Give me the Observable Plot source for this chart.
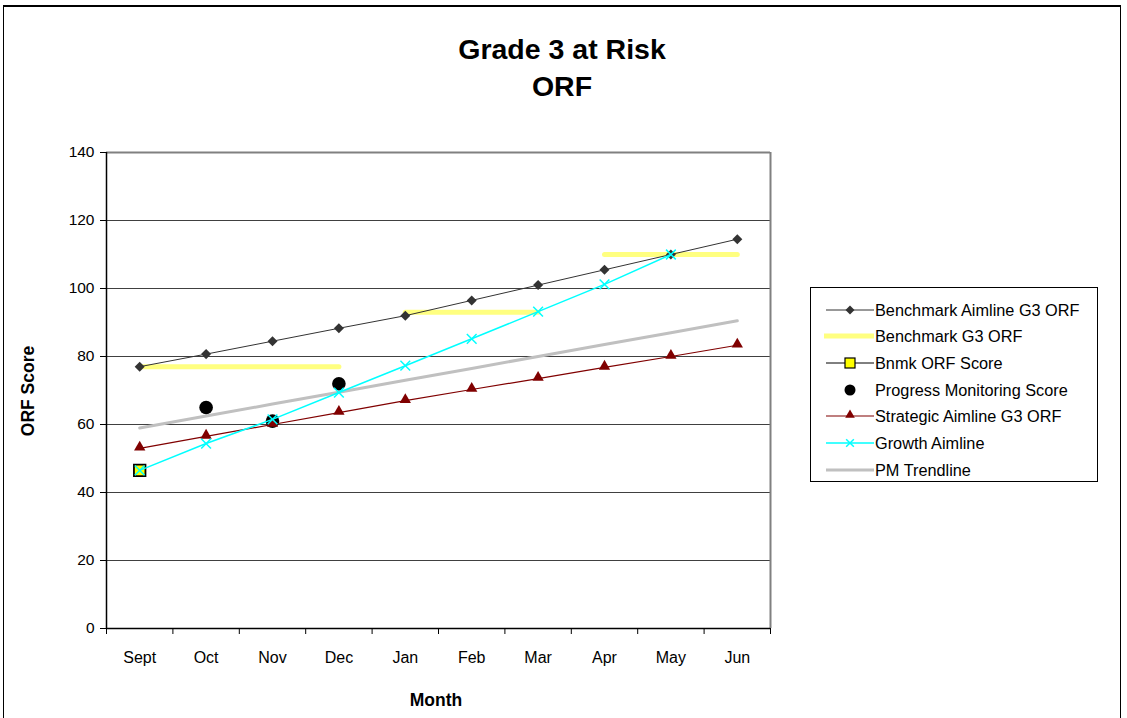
<!DOCTYPE html>
<html>
<head>
<meta charset="utf-8">
<script src="https://cdn.jsdelivr.net/npm/d3@7"></script>
<script src="https://cdn.jsdelivr.net/npm/@observablehq/plot@0.6"></script>
<style>
  html, body { margin: 0; padding: 0; background: #fff; }
  body { width: 1127px; height: 718px; overflow: hidden; position: relative; font-family: "Liberation Sans", Arial, sans-serif; }
  #frame { position: absolute; left: 3px; top: 5px; width: 1118px; height: 800px; border: 1px solid #000; border-top: 2px solid #000; box-sizing: border-box; }
  #title { position: absolute; left: 0; width: 1124px; top: 31px; text-align: center; font-weight: bold; font-size: 28.5px; line-height: 37px; color: #000; }
  #chart { position: absolute; left: 0; top: 0; }
  #legend { position: absolute; left: 810px; top: 287px; width: 288px; height: 195px; border: 1px solid #000; box-sizing: border-box; background: #fff; }
  #ylabel { position: absolute; left: 28px; top: 391px; transform: translate(-50%, -50%) rotate(-90deg); font-weight: bold; font-size: 17.5px; white-space: nowrap; }
  #xlabel { position: absolute; left: 436px; top: 700px; transform: translate(-50%, -50%); font-weight: bold; font-size: 17.5px; }
</style>
</head>
<body>
<div id="frame"></div>
<div id="title">Grade 3 at Risk<br>ORF</div>
<div id="chart"></div>
<div id="ylabel">ORF Score</div>
<div id="xlabel">Month</div>
<div id="legend"></div>
<script>
const months = ["Sept", "Oct", "Nov", "Dec", "Jan", "Feb", "Mar", "Apr", "May", "Jun"];
const yTicks = [0, 20, 40, 60, 80, 100, 120, 140];
const benchmarkAimline = [77, 80.7, 84.5, 88.3, 92, 96.5, 101, 105.5, 110, 114.5];
const benchmarkG3 = [77, 77, 77, 77, 93, 93, 93, 110, 110, 110];
const bnmkScore = [46.5, null, null, null, null, null, null, null, null, null];
const pmScore = [null, 65, 61, 72, null, null, null, null, null, null];
const strategicAimline = [53, 56.5, 60, 63.5, 67, 70.3, 73.5, 76.8, 80, 83.3];
const growthAimline = [46.5, 54.4, 61.5, 69.4, 77.3, 85.2, 93.2, 101.2, 110, null];
const pmTrendline = [59, 62.5, 66, 69.5, 73, 76.5, 80, 83.5, 87, 90.5];
const seriesNames = ["Benchmark Aimline G3 ORF", "Benchmark G3 ORF", "Bnmk ORF Score", "Progress Monitoring Score", "Strategic Aimline G3 ORF", "Growth Aimline", "PM Trendline"];

const toRows = arr => arr.map((v, i) => ({x: i + 1, month: months[i], y: v})).filter(d => d.y != null);
const idx = months.map((m, i) => i + 1);
const bounds = d3.range(0.5, months.length + 1, 1);

// square (rotated) diamond like spreadsheet markers
const squareDiamond = {
  draw(context, size) {
    const r = Math.sqrt(size / 2);
    context.moveTo(0, -r);
    context.lineTo(r, 0);
    context.lineTo(0, r);
    context.lineTo(-r, 0);
    context.closePath();
  }
};

const plot = Plot.plot({
  width: 1127,
  height: 718,
  marginLeft: 106,
  marginRight: 357,
  marginTop: 152,
  marginBottom: 90,
  style: {fontFamily: "Liberation Sans, Arial, sans-serif", fontSize: "15px", background: "transparent", overflow: "visible", color: "#000"},
  x: {domain: [0.5, months.length + 0.5]},
  y: {domain: [0, 140]},
  marks: [
    Plot.ruleY(yTicks.filter(v => v > 0 && v < 140), {stroke: "#404040", strokeWidth: 1}),
    Plot.ruleY([140], {stroke: "#808080", strokeWidth: 2}),
    Plot.ruleX([months.length + 0.5], {stroke: "#808080", strokeWidth: 2}),
    Plot.axisY({ticks: yTicks, tickSize: 6, tickPadding: 6, fontSize: 15.5, label: null, color: "#000"}),
    Plot.axisX({ticks: bounds, tickFormat: () => "", tickSize: 6, label: null}),
    Plot.axisX({ticks: idx, tickFormat: i => months[i - 1], tickSize: 0, tickPadding: 23, fontSize: 16, label: null}),
    Plot.ruleX([0.5], {stroke: "#000", strokeWidth: 1.5}),
    Plot.ruleY([0], {stroke: "#000", strokeWidth: 1.5}),
    // Benchmark G3 ORF (yellow step segments)
    Plot.line(toRows(benchmarkG3), {x: "x", y: "y", z: "y", stroke: "#ffff80", strokeWidth: 5}),
    // PM Trendline
    Plot.line(toRows(pmTrendline), {x: "x", y: "y", stroke: "#c0c0c0", strokeWidth: 3}),
    // Benchmark Aimline
    Plot.line(toRows(benchmarkAimline), {x: "x", y: "y", stroke: "#333333", strokeWidth: 1}),
    Plot.dot(toRows(benchmarkAimline), {x: "x", y: "y", symbol: squareDiamond, r: 4, fill: "#333333", stroke: "none"}),
    // Bnmk ORF score
    Plot.dot(toRows(bnmkScore), {x: "x", y: "y", symbol: "square", r: 6.5, fill: "#ffff00", stroke: "#000", strokeWidth: 1.8}),
    // Progress monitoring score
    Plot.dot(toRows(pmScore), {x: "x", y: "y", symbol: "circle", r: 6.8, fill: "#000"}),
    // Strategic aimline
    Plot.line(toRows(strategicAimline), {x: "x", y: "y", stroke: "#800000", strokeWidth: 1.2}),
    Plot.dot(toRows(strategicAimline), {x: "x", y: "y", symbol: "triangle", r: 4.2, fill: "#800000", stroke: "none", dy: -1}),
    // Growth aimline
    Plot.line(toRows(growthAimline), {x: "x", y: "y", stroke: "#00ffff", strokeWidth: 1.5}),
    Plot.dot(toRows(growthAimline), {x: "x", y: "y", symbol: "times", r: 4.5, stroke: "#00ffff", strokeWidth: 1.5, fill: "none"})
  ]
});
document.getElementById("chart").appendChild(plot);

// Legend
const legendSvg = d3.select("#legend").append("svg").attr("width", 286).attr("height", 193)
  .style("font-family", "Liberation Sans, Arial, sans-serif");
const rowY = [22, 48, 75, 102, 128, 155, 182];
const g = legendSvg.selectAll("g").data(seriesNames).join("g").attr("transform", (d, i) => `translate(0,${rowY[i]})`);
g.append("text").attr("x", 64).attr("y", 6).attr("font-size", 16.3).text(d => d);
const sw = (i) => d3.select(g.nodes()[i]);
const x0 = 15, x1 = 63, xm = 39;
sw(0).append("line").attr("x1", x0).attr("x2", x1).attr("stroke", "#333").attr("stroke-width", 1);
sw(0).append("path").attr("d", d3.symbol(squareDiamond, 40)()).attr("transform", `translate(${xm},0)`).attr("fill", "#333");
sw(1).append("line").attr("x1", x0 - 2).attr("x2", x1).attr("stroke", "#ffff80").attr("stroke-width", 5);
sw(2).append("line").attr("x1", x0).attr("x2", x1).attr("stroke", "#000").attr("stroke-width", 1);
sw(2).append("rect").attr("x", xm - 5).attr("y", -5).attr("width", 10).attr("height", 10).attr("fill", "#ffff00").attr("stroke", "#000").attr("stroke-width", 1.2);
sw(3).append("circle").attr("cx", xm).attr("cy", 0).attr("r", 5.5).attr("fill", "#000");
sw(4).append("line").attr("x1", x0).attr("x2", x1).attr("stroke", "#800000").attr("stroke-width", 1.2);
sw(4).append("path").attr("d", d3.symbol(d3.symbolTriangle, 40)()).attr("transform", `translate(${xm},-1)`).attr("fill", "#800000");
sw(5).append("line").attr("x1", x0).attr("x2", x1).attr("stroke", "#00ffff").attr("stroke-width", 1.5);
sw(5).append("path").attr("d", d3.symbol(d3.symbolTimes, 40)()).attr("transform", `translate(${xm},0)`).attr("fill", "none").attr("stroke", "#00ffff").attr("stroke-width", 1.5);
sw(6).append("line").attr("x1", x0).attr("x2", x1).attr("stroke", "#c0c0c0").attr("stroke-width", 3);
</script>
</body>
</html>
